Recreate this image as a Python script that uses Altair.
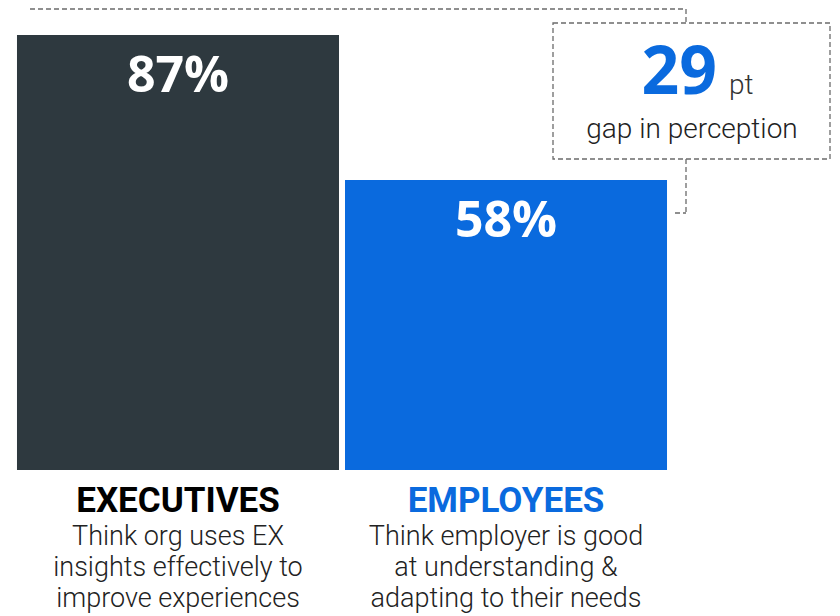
import altair as alt
import pandas as pd

groups = ["EXECUTIVES", "EMPLOYEES"]
values = [87, 58]
descriptions = [
    "Think org uses EX\ninsights effectively to\nimprove experiences",
    "Think employer is good\nat understanding &\nadapting to their needs",
]
gap_value = values[0] - values[1]
gap_unit = "pt"
gap_caption = "gap in perception"

DARK = "#2E393F"
BLUE = "#0A6ADE"
DASH_COLOR = "#6b6b6b"

df = pd.DataFrame({"group": groups, "value": values, "desc": descriptions})

x_enc = alt.X("group:N", sort=groups, axis=None,
              scale=alt.Scale(paddingInner=0.0183, paddingOuter=0.0274))
y_scale = alt.Scale(domain=[0, 92.4], nice=False, zero=True)

base = alt.Chart(df)

bars = base.mark_bar(cornerRadius=0).encode(
    x=x_enc,
    y=alt.Y("value:Q", scale=y_scale, axis=None),
    color=alt.Color("group:N", scale=alt.Scale(domain=groups, range=[DARK, BLUE]), legend=None),
)

bar_labels = base.transform_calculate(label="datum.value + '%'").mark_text(
    font="Open Sans", fontWeight="bold", fontSize=50, color="white",
    baseline="alphabetic", align="center", dy=57,
).encode(x=x_enc, y=alt.Y("value:Q", scale=y_scale), text="label:N")

cat_labels = base.mark_text(
    font="Roboto", fontWeight="bold", fontSize=35, baseline="alphabetic", align="center",
).encode(
    x=x_enc, y=alt.value(504), text="group:N",
    color=alt.condition(alt.datum.group == "EMPLOYEES", alt.value(BLUE), alt.value("#000000")),
)

desc_labels = base.mark_text(
    font="Roboto", fontWeight=300, fontSize=27, baseline="alphabetic", align="center",
    lineBreak="\n", lineHeight=31, color="#222222",
).encode(x=x_enc, y=alt.value(537), text="desc:N")

dash = [5, 3]
ann = alt.Chart(pd.DataFrame({"k": [0]}))

top_line = ann.mark_rule(color=DASH_COLOR, strokeWidth=1.3, strokeDash=dash).encode(
    x=alt.value(22), x2=alt.value(678), y=alt.value(1))
top_vert = ann.mark_rule(color=DASH_COLOR, strokeWidth=1.3, strokeDash=dash).encode(
    x=alt.value(678), y=alt.value(1), y2=alt.value(15))
box = ann.mark_rect(filled=False, stroke=DASH_COLOR, strokeWidth=1.3, strokeDash=dash).encode(
    x=alt.value(545), x2=alt.value(822), y=alt.value(15), y2=alt.value(151))
bot_vert = ann.mark_rule(color=DASH_COLOR, strokeWidth=1.3, strokeDash=dash).encode(
    x=alt.value(678), y=alt.value(151), y2=alt.value(205))
bot_horiz = ann.mark_rule(color=DASH_COLOR, strokeWidth=1.3, strokeDash=dash).encode(
    x=alt.value(667), x2=alt.value(678), y=alt.value(205))

gap_df = pd.DataFrame({"num": [str(gap_value)], "unit": [gap_unit], "cap": [gap_caption]})
gap_base = alt.Chart(gap_df)
gap_num = gap_base.mark_text(
    font="Open Sans", fontWeight="bold", fontSize=66, color=BLUE,
    align="right", baseline="alphabetic",
).encode(x=alt.value(709), y=alt.value(86), text="num:N")
gap_unit_t = gap_base.mark_text(
    font="Roboto", fontWeight=300, fontSize=28, color="#333333",
    align="left", baseline="alphabetic",
).encode(x=alt.value(721), y=alt.value(86), text="unit:N")
gap_cap = gap_base.mark_text(
    font="Roboto", fontWeight=300, fontSize=28, color="#222222",
    align="center", baseline="alphabetic",
).encode(x=alt.value(684), y=alt.value(130), text="cap:N")

chart = alt.layer(
    bars, bar_labels, cat_labels, desc_labels,
    top_line, top_vert, box, bot_vert, bot_horiz,
    gap_num, gap_unit_t, gap_cap,
).properties(
    width=668, height=462,
    autosize=alt.AutoSizeParams(type="none"),
    padding={"left": 0, "top": 0, "right": 156, "bottom": 146},
    background="white",
).configure_view(stroke=None)

chart.save("out.html", embed_options={"renderer": "svg", "actions": False})
